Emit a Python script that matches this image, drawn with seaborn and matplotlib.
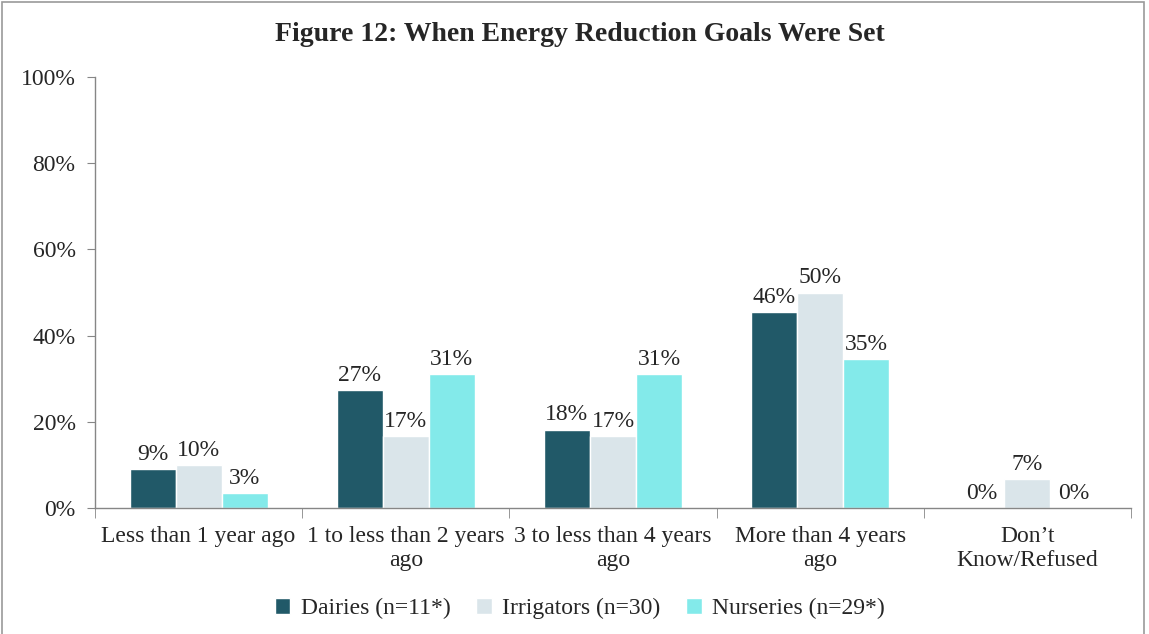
import pandas as pd
import matplotlib.pyplot as plt
import seaborn as sns
from matplotlib.patches import Rectangle
from matplotlib.ticker import FixedLocator

categories = ["Less than 1 year ago", "1 to less than 2 years\nago",
              "3 to less than 4 years\nago", "More than 4 years\nago",
              "Don\u2019t\nKnow/Refused"]
series = ["Dairies (n=11*)", "Irrigators (n=30)", "Nurseries (n=29*)"]
dairies = [9.1, 27.3, 18.2, 45.5, 0.0]
irrigators = [10.0, 16.7, 16.7, 50.0, 6.7]
nurseries = [3.4, 31.0, 31.0, 34.5, 0.0]
colors = ["#215968", "#DAE5EA", "#83EAEA"]

rows = []
for name, vals in zip(series, [dairies, irrigators, nurseries]):
    for cat, v in zip(categories, vals):
        rows.append({"category": cat, "series": name, "value": v})
df = pd.DataFrame(rows)

sns.set_style("white")
plt.rcParams['font.family'] = ['Liberation Serif', 'DejaVu Serif']
fs = 17

fig = plt.figure(figsize=(11.49, 6.34), dpi=100)
ax = fig.add_axes([0.0827, 0.1987, 0.9016, 0.6798])
sns.barplot(data=df, x="category", y="value", hue="series", order=categories,
            hue_order=series, palette=colors, width=0.667, saturation=1,
            ax=ax)

# round half up, like the source labels
for cont in ax.containers:
    ax.bar_label(cont, labels=[f"{int(b.get_height() + 0.5)}%" for b in cont],
                 fontsize=fs, padding=3)

ax.set_ylim(0, 100)
ax.set_xlim(-0.5, 4.5)
ax.set_yticks(range(0, 101, 20))
ax.set_yticklabels([f"{t}%" for t in range(0, 101, 20)], fontsize=fs)
ax.tick_params(axis='y', length=6, color="#868686", direction='out', left=True,
               pad=8)
ax.tick_params(axis='x', which='major', length=0, labelsize=fs, pad=13)
ax.xaxis.set_minor_locator(FixedLocator([-0.5, 0.5, 1.5, 2.5, 3.5, 4.5]))
ax.tick_params(axis='x', which='minor', length=7, color="#868686",
               direction='out', bottom=True)
ax.set_xlabel("")
ax.set_ylabel("")
for s in ["top", "right"]:
    ax.spines[s].set_visible(False)
for s in ["left", "bottom"]:
    ax.spines[s].set_color("#868686")
    ax.spines[s].set_linewidth(1)

ax.legend(loc="center", bbox_to_anchor=(0.468, -0.233), ncol=3, frameon=False,
          fontsize=fs, handlelength=0.65, handleheight=0.65, columnspacing=1.1,
          handletextpad=0.45)

fig.text(0.505, 0.945, "Figure 12: When Energy Reduction Goals Were Set",
         ha="center", va="center", fontsize=20, fontweight="bold")
fig.patches.append(Rectangle((0.002, -0.01), 0.994, 1.007,
                             transform=fig.transFigure, fill=False,
                             edgecolor="#9a9a9a", linewidth=1.2))

fig.savefig("out.png", dpi=100)
